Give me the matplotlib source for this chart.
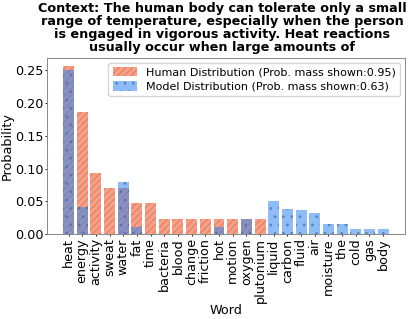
import matplotlib
matplotlib.use("Agg")
import matplotlib.pyplot as plt
import numpy as np

words = ["heat", "energy", "activity", "sweat", "water", "fat", "time", "bacteria",
         "blood", "change", "friction", "hot", "motion", "oxygen", "plutonium",
         "liquid", "carbon", "fluid", "air", "moisture", "the", "cold", "gas", "body"]
human = [0.256, 0.186, 0.093, 0.070, 0.070, 0.047, 0.047, 0.023, 0.023, 0.023,
         0.023, 0.023, 0.023, 0.023, 0.023, 0, 0, 0, 0, 0, 0, 0, 0, 0]
model = [0.250, 0.042, 0, 0, 0.080, 0.011, 0, 0, 0, 0, 0, 0.011, 0, 0.023, 0,
         0.050, 0.039, 0.037, 0.032, 0.016, 0.016, 0.008, 0.008, 0.008]
human_mass = 0.95
model_mass = 0.63
title = ("Context: The human body can tolerate only a small\n"
         "range of temperature, especially when the person\n"
         "is engaged in vigorous activity. Heat reactions\n"
         "usually occur when large amounts of")

plt.rcParams['hatch.linewidth'] = 0.8
fig = plt.figure(figsize=(4.14, 3.19), dpi=100)
ax = fig.add_axes([0.113, 0.266, 0.865, 0.552])
x = np.arange(len(words))
ax.bar(x, human, width=0.8, color="#f4967a", alpha=0.9, hatch="/////",
       edgecolor="#e67a5c", linewidth=0,
       label=f"Human Distribution (Prob. mass shown:{human_mass})")
ax.bar(x, model, width=0.8, color="#2f86f0", alpha=0.55, hatch="..",
       edgecolor="#3f68a8", linewidth=0,
       label=f"Model Distribution (Prob. mass shown:{model_mass})")
ax.set_xticks(x)
ax.set_xticklabels(words, rotation=90, fontsize=9.2)
ax.tick_params(axis='y', labelsize=9.2, length=1.5, pad=1.0, width=0.6)
ax.tick_params(axis='x', length=1.5, pad=1.5, width=0.6)
ax.set_yticks([0, 0.05, 0.10, 0.15, 0.20, 0.25])
ax.set_xlabel("Word", fontsize=9.2, labelpad=0.5)
ax.set_ylabel("Probability", fontsize=9.2, labelpad=0.5)
for s in ax.spines.values():
    s.set_color("#888888")
    s.set_linewidth(0.7)
ax.legend(fontsize=8, loc="upper right", handlelength=2.2, handleheight=0.9,
          borderaxespad=0.4, labelspacing=0.35)
fig.suptitle(title, fontsize=9.2, fontweight="bold", x=0.537, y=0.995, linespacing=1.0)
fig.savefig("out.png", dpi=100)
